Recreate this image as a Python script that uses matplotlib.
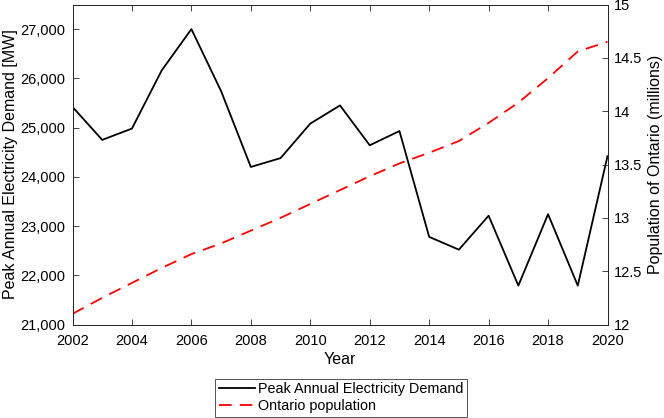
import matplotlib
matplotlib.use("Agg")
import matplotlib.pyplot as plt
from matplotlib.ticker import FuncFormatter

plt.rcParams['font.family'] = ['Liberation Sans', 'DejaVu Sans']

years = [2002, 2003, 2004, 2005, 2006, 2007, 2008, 2009, 2010, 2011,
         2012, 2013, 2014, 2015, 2016, 2017, 2018, 2019, 2020]
demand = [25420, 24750, 24980, 26160, 27000, 25740, 24200, 24380, 25080, 25450,
          24640, 24930, 22780, 22520, 23210, 21790, 23240, 21790, 24420]
population = [12.10, 12.25, 12.39, 12.53, 12.66, 12.76, 12.88, 13.00, 13.13, 13.26,
              13.39, 13.51, 13.61, 13.72, 13.89, 14.08, 14.31, 14.56, 14.65]
xticks = [2002, 2004, 2006, 2008, 2010, 2012, 2014, 2016, 2018, 2020]
left_ticks = [21000, 22000, 23000, 24000, 25000, 26000, 27000]
right_ticks = [12, 12.5, 13, 13.5, 14, 14.5, 15]
right_labels = ['12', '12.5', '13', '13.5', '14', '14.5', '15']

fig = plt.figure(figsize=(6.64, 4.18), dpi=100)
ax = fig.add_axes([72.5/664, 1 - 324.5/418, (607.5 - 72.5)/664, (324.5 - 4.5)/418])
ax2 = ax.twinx()

spine_c = '#262626'
l1, = ax.plot(years, demand, color='black', lw=1.3, label='Peak Annual Electricity Demand')
l2, = ax2.plot(years, population, color='#ff0000', lw=1.3, ls=(0, (7, 4.5)), label='Ontario population')

ax.set_xlim(2002, 2020)
ax.set_ylim(21000, 27500)
ax2.set_ylim(12, 15)
ax.set_xticks(xticks)
ax.set_yticks(left_ticks)
ax.yaxis.set_major_formatter(FuncFormatter(lambda v, p: f'{int(v):,}'))
ax2.set_yticks(right_ticks)
ax2.set_yticklabels(right_labels)

fs = 10.5
for a in (ax, ax2):
    for s in a.spines.values():
        s.set_color(spine_c)
        s.set_linewidth(0.7)
ax.tick_params(axis='x', direction='in', top=True, length=4, width=0.6, color=spine_c, labelsize=fs, pad=7)
ax.tick_params(axis='y', direction='in', length=4, width=0.6, color=spine_c, labelsize=fs, pad=5)
ax2.tick_params(axis='y', direction='in', length=4, width=0.6, color=spine_c, labelsize=fs, pad=4.5)

ax.set_xlabel('Year', fontsize=11.5, labelpad=3)
ax.set_ylabel('Peak Annual Electricity Demand [MW]', fontsize=11.5, labelpad=2)
ax2.set_ylabel('Population of Ontario (millions)', fontsize=11.5, labelpad=4)

leg = fig.legend(handles=[l1, l2], loc='lower center', bbox_to_anchor=(341/664, 1/418),
                 fontsize=10.4, frameon=True, fancybox=False, edgecolor=spine_c,
                 handlelength=2.5, handletextpad=0.2, borderpad=0.25, labelspacing=0.2,
                 borderaxespad=0)
leg.get_frame().set_linewidth(0.7)

fig.savefig('out.png', dpi=100)
